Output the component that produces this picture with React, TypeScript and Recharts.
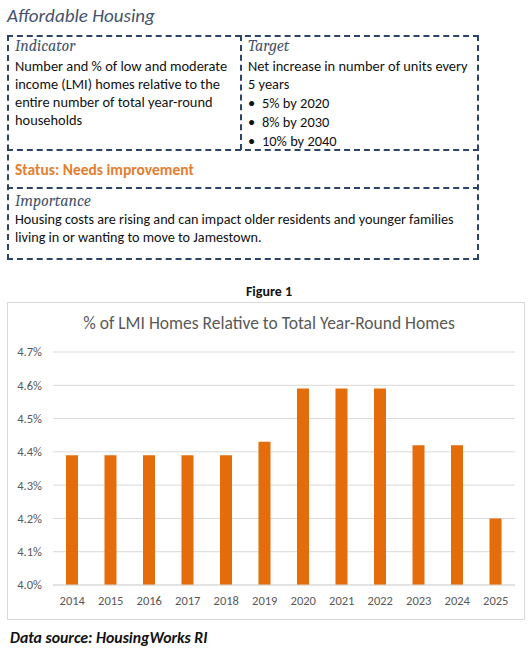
import React from 'react';
import { BarChart, Bar, XAxis, YAxis, CartesianGrid } from 'recharts';

const years = ['2014', '2015', '2016', '2017', '2018', '2019', '2020', '2021', '2022', '2023', '2024', '2025'];
const lmiShare = [4.39, 4.39, 4.39, 4.39, 4.39, 4.43, 4.59, 4.59, 4.59, 4.42, 4.42, 4.2];
const yTicks = [4.0, 4.1, 4.2, 4.3, 4.4, 4.5, 4.6, 4.7];

const data = years.map((year, i) => ({ year, value: lmiShare[i] }));

const SANS = "Carlito, 'Liberation Sans', Arial, sans-serif";
const SERIF = "Cambria, 'Liberation Serif', 'DejaVu Serif', serif";
const NAVY = '#2B4468';
const DASH = `2px dashed ${NAVY}`;

const abs = (left: number, top: number, extra: React.CSSProperties = {}): React.CSSProperties => ({
   position: 'absolute',
   left,
   top,
   whiteSpace: 'nowrap',
   ...extra,
});

const heading: React.CSSProperties = {
   fontFamily: SERIF,
   fontStyle: 'italic',
   fontSize: 16,
   color: '#44546A',
   lineHeight: '18px',
};

const body: React.CSSProperties = {
   fontFamily: SANS,
   fontSize: 14.4,
   color: '#111',
   lineHeight: '18px',
};

export default function App() {
   return (
      <div style={{ position: 'absolute', left: 0, top: 0, width: 528, height: 663, background: '#fff', overflow: 'hidden' }}>
         {/* Page title */}
         <div style={abs(7, 5, { fontFamily: SANS, fontStyle: 'italic', fontSize: 19, color: '#44546A', lineHeight: '22px' })}>
            Affordable Housing
         </div>

         {/* Indicator table */}
         <div style={abs(7, 35, { width: 468, height: 221, border: DASH })} />
         <div style={abs(240, 35, { width: 0, height: 115, borderLeft: DASH })} />
         <div style={abs(7, 149, { width: 472, height: 0, borderTop: DASH })} />
         <div style={abs(7, 187, { width: 472, height: 0, borderTop: DASH })} />

         <div style={abs(15, 37, heading)}>Indicator</div>
         <div style={abs(15, 57, body)}>
            Number and % of low and moderate
            <br />
            income (LMI) homes relative to the
            <br />
            entire number of total year-round
            <br />
            households
         </div>

         <div style={abs(248, 37, heading)}>Target</div>
         <div style={abs(248, 57, body)}>
            Net increase in number of units every
            <br />5 years
         </div>
         <div style={abs(248, 94, { ...body, lineHeight: '19px' })}>
            {['5% by 2020', '8% by 2030', '10% by 2040'].map((t) => (
               <div key={t}>
                  <span style={{ display: 'inline-block', width: 14 }}>•</span>
                  {t}
               </div>
            ))}
         </div>

         <div style={abs(15, 161, { fontFamily: SANS, fontWeight: 'bold', fontSize: 15.5, color: '#E47E31', lineHeight: '18px' })}>
            Status: Needs improvement
         </div>

         <div style={abs(15, 192, heading)}>Importance</div>
         <div style={abs(15, 210, { ...body, fontSize: 14.2 })}>
            Housing costs are rising and can impact older residents and younger families
            <br />
            living in or wanting to move to Jamestown.
         </div>

         {/* Figure */}
         <div style={abs(0, 283, { width: 538, textAlign: 'center', fontFamily: SANS, fontWeight: 'bold', fontSize: 14, color: '#111', lineHeight: '18px' })}>
            Figure 1
         </div>
         <div style={abs(7, 302, { width: 516, height: 316, border: '1px solid #D9D9D9' })} />
         <div style={abs(0, 312, { width: 538, textAlign: 'center', fontFamily: SANS, fontSize: 17.5, color: '#595959', lineHeight: '22px' })}>
            % of LMI Homes Relative to Total Year-Round Homes
         </div>

         <div style={abs(0, 340)}>
            <BarChart
               width={528}
               height={280}
               data={data}
               margin={{ top: 12, right: 13, left: 0, bottom: 0 }}
               barCategoryGap="34%"
            >
               <CartesianGrid vertical={false} stroke="#D9D9D9" />
               <XAxis
                  dataKey="year"
                  height={35}
                  tickLine={false}
                  tickSize={0}
                  tickMargin={11}
                  axisLine={{ stroke: '#D9D9D9' }}
                  tick={{ fill: '#595959', fontSize: 12.5, fontFamily: SANS }}
                  interval={0}
               />
               <YAxis
                  width={53}
                  domain={[4.0, 4.7]}
                  ticks={yTicks}
                  allowDataOverflow
                  tickFormatter={(v: number) => `${v.toFixed(1)}%`}
                  axisLine={false}
                  tickLine={false}
                  tickSize={0}
                  tickMargin={11}
                  tick={{ fill: '#595959', fontSize: 12.5, fontFamily: SANS }}
               />
               <Bar dataKey="value" fill="#E46C0A" barSize={12} isAnimationActive={false} />
            </BarChart>
         </div>

         <div style={abs(10, 628, { fontFamily: SANS, fontWeight: 'bold', fontStyle: 'italic', fontSize: 15.8, color: '#111', lineHeight: '20px' })}>
            Data source: HousingWorks RI
         </div>
      </div>
   );
}
